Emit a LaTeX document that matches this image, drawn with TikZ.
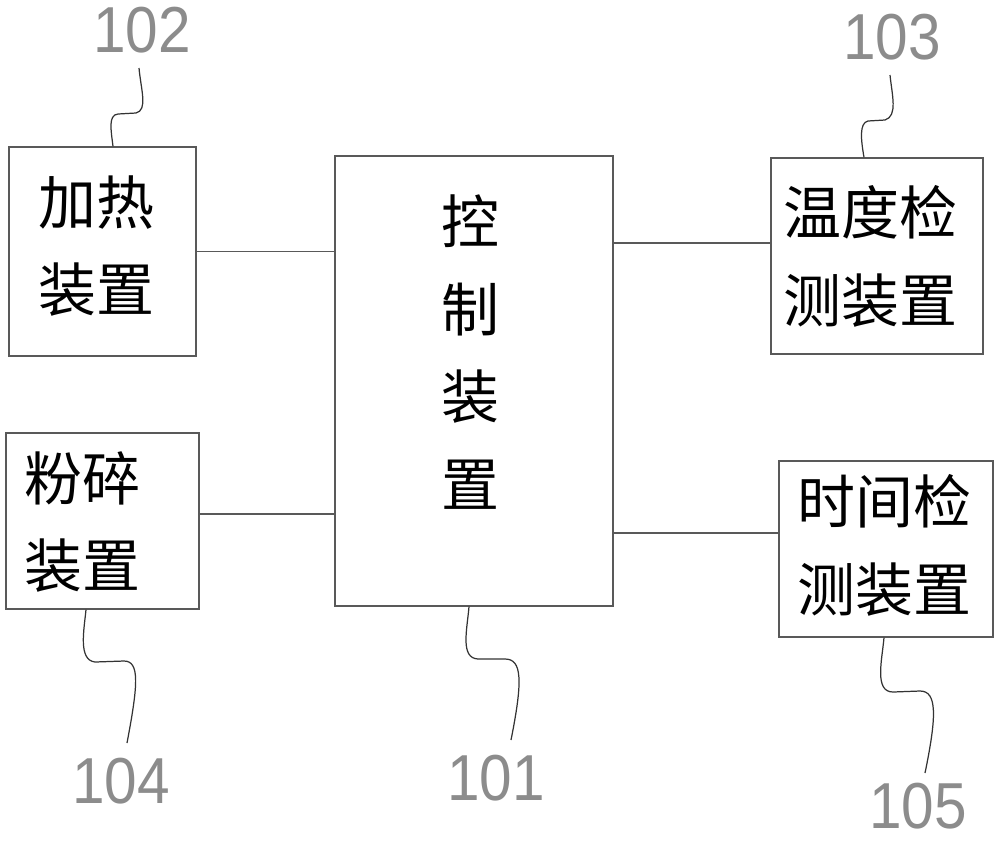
\documentclass[tikz,border=0pt]{standalone}
\usepackage{fontspec}
\usepackage{tikz}
\usetikzlibrary{positioning}
\newfontfamily\cjk{Noto Sans CJK SC}
\newfontfamily\numfont{Liberation Sans}
\newcommand{\refno}[1]{\scalebox{0.9}[1]{#1}}

\begin{document}
\begin{tikzpicture}[x=0.02cm, y=-0.02cm]
        \tikzstyle{unit}=[rectangle, draw=black!65, line width=0.8pt, fill=white, inner sep=0pt]
        \tikzstyle{boxtext}=[font=\cjk\fontsize{33}{50}\selectfont, align=center, inner sep=0pt]
        \tikzstyle{num}=[font=\numfont\fontsize{37}{37}\selectfont, text=black!45, inner sep=0pt]
        \tikzstyle{link}=[draw=black!65, line width=0.8pt]
        \tikzstyle{leader}=[draw=black!80, line width=0.7pt]
        \useasboundingbox (0,0) rectangle (1000,843);
        \begin{scope}
          \node [unit, minimum width=5.56cm, minimum height=9cm] (ctrl) at (474,381) {};
          \node [unit, minimum width=3.74cm, minimum height=4.18cm] (heat) at (102.5,251.5) {};
          \node [unit, minimum width=3.86cm, minimum height=3.52cm] (crush) at (102.5,521) {};
          \node [unit, minimum width=4.24cm, minimum height=3.92cm] (temp) at (877,256) {};
          \node [unit, minimum width=4.28cm, minimum height=3.52cm] (time) at (886,549) {};
        \end{scope}
        % box texts
        \node [boxtext] (ctrl-t) at (470,352) {控\\制\\装\\置};
        \node [boxtext] (heat-t) at (96,246) {加热\\装置};
        \node [boxtext] (crush-t) at (82,522) {粉碎\\装置};
        \node [boxtext] (temp-t) at (870,256) {温度检\\测装置};
        \node [boxtext] (time-t) at (884,545) {时间检\\测装置};
        % connections
        \draw [link] (heat.east) -- (heat.east -| ctrl.west);
        \draw [link] ([yshift=0.14cm]crush.east) -- ([yshift=0.14cm]crush.east -| ctrl.west);
        \draw [link] ([yshift=0.26cm]temp.west) -- ([yshift=0.26cm]temp.west -| ctrl.east);
        \draw [link] ([yshift=0.32cm]time.west) -- ([yshift=0.32cm]time.west -| ctrl.east);
        % reference numbers
        \node [num] (n101) at (496,778) {\refno{101}};
        \node [num] (n102) at (142,30) {\refno{102}};
        \node [num] (n103) at (892,37) {\refno{103}};
        \node [num] (n104) at (121,781) {\refno{104}};
        \node [num] (n105) at (918,806) {\refno{105}};
        \coordinate (e101) at (511,740);
        \coordinate (e102) at (139,68);
        \coordinate (e103) at (890,75);
        \coordinate (e104) at (127,743);
        \coordinate (e105) at (925,773);
        \draw [leader] (e102) .. controls (141,90) and (148,110) .. (136,113) -- (118,114)
          .. controls (108,115) and (111,130) .. (heat.north -| 113,0);
        \draw [leader] (e103) .. controls (892,95) and (898,116) .. (885,120) -- (868,121)
          .. controls (859,123) and (861,140) .. (temp.north -| 864,0);
        \draw [leader] (crush.south -| 86,0) .. controls (84,630) and (78,660) .. (95,662) -- (124,661)
          .. controls (140,661) and (138,685) .. (e104);
        \draw [leader] (ctrl.south -| 469,0) .. controls (467,630) and (460,658) .. (478,659) -- (505,659)
          .. controls (522,659) and (523,680) .. (e101);
        \draw [leader] (time.south -| 884,0) .. controls (882,660) and (874,692) .. (893,692) -- (920,691)
          .. controls (937,691) and (937,715) .. (e105);
\end{tikzpicture}
\end{document}
